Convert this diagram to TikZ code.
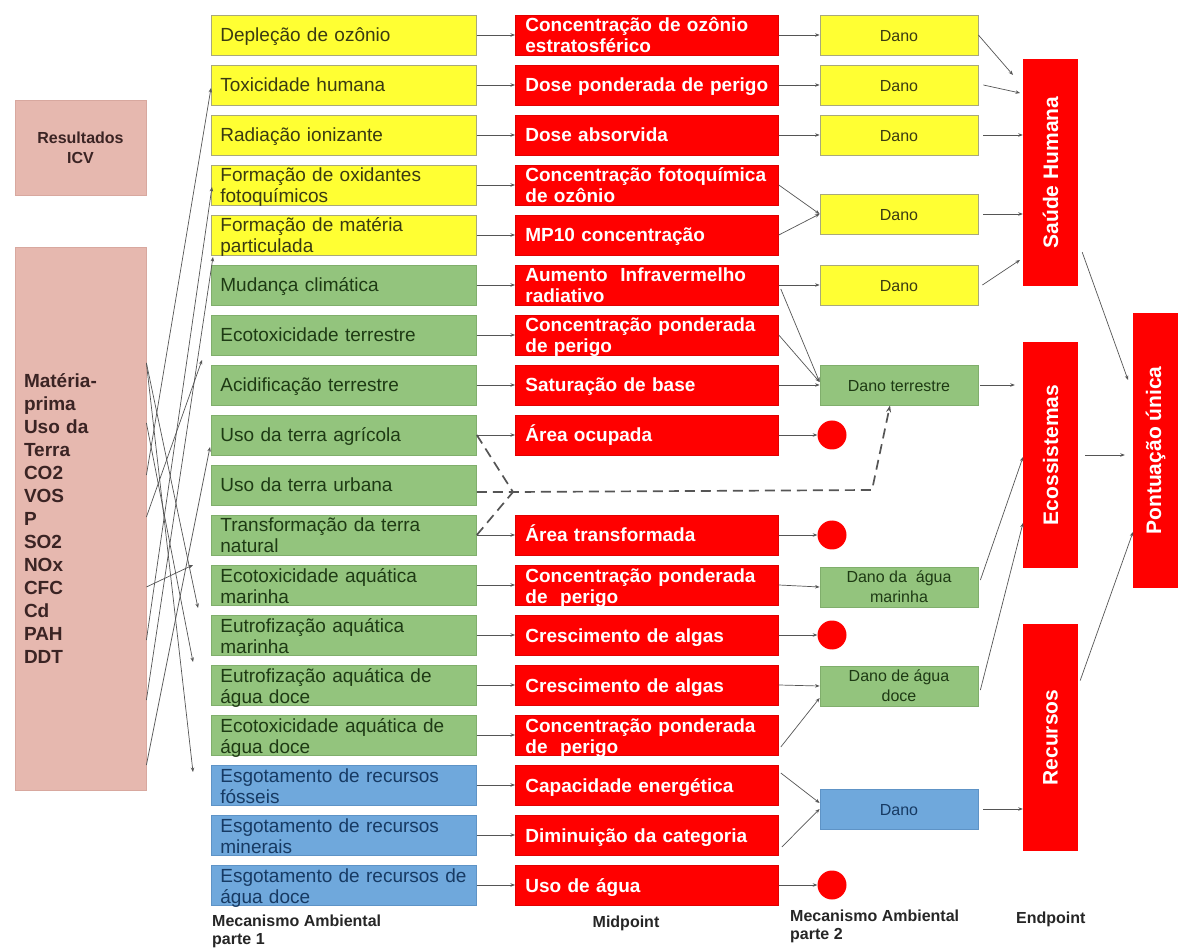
\documentclass[tikz,border=0pt]{standalone}
\usepackage{fontspec}
\setmainfont{Liberation Sans}
\usetikzlibrary{arrows.meta,calc}

\definecolor{ylw}{HTML}{FFFF33}
\definecolor{ylwline}{HTML}{A9A97A}
\definecolor{ylwtext}{HTML}{3A3A12}
\definecolor{grn}{HTML}{93C47D}
\definecolor{grnline}{HTML}{80AE6C}
\definecolor{grntext}{HTML}{1E3A14}
\definecolor{blu}{HTML}{6FA8DC}
\definecolor{bluline}{HTML}{5E93C6}
\definecolor{blutext}{HTML}{173A63}
\definecolor{rd}{HTML}{FF0000}
\definecolor{rdline}{HTML}{E00000}
\definecolor{pnk}{HTML}{E6B8AF}
\definecolor{pnkline}{HTML}{D8A89F}
\definecolor{pnktext}{HTML}{3B2424}
\definecolor{wire}{HTML}{555555}

\begin{document}
\begin{tikzpicture}[x=1pt,y=-1pt,
  box1/.style={rectangle, anchor=west, minimum height=40pt, inner xsep=9pt,
    inner ysep=0pt, text width=247pt, align=left, line width=0.8pt,
    text height=27pt, text depth=13pt,
    font=\fontsize{19}{21}\selectfont},
  twoline/.style={text height=17pt, text depth=23pt},
  yel/.style={box1, fill=ylw, draw=ylwline, text=ylwtext},
  grnbox/.style={box1, fill=grn, draw=grnline, text=grntext},
  blubox/.style={box1, fill=blu, draw=bluline, text=blutext},
  midbox/.style={rectangle, anchor=west, fill=rd, draw=rdline, line width=0.8pt,
    minimum height=40pt, inner xsep=10pt, inner ysep=0pt, text width=243pt,
    text height=27pt, text depth=13pt,
    align=left, text=white, font=\bfseries\fontsize{19}{21}\selectfont},
  dano/.style={rectangle, minimum width=158pt, minimum height=40pt, inner sep=0pt,
    align=center, line width=0.8pt, font=\fontsize{16}{20}\selectfont},
  danoone/.style={text height=26.5pt, text depth=13.5pt},
  danoy/.style={dano, danoone, fill=ylw, draw=ylwline, text=ylwtext},
  danog/.style={dano, fill=grn, draw=grnline, text=grntext},
  danob/.style={dano, danoone, fill=blu, draw=bluline, text=blutext},
  blob/.style={circle, fill=rd, minimum size=29pt, inner sep=0pt},
  endbox/.style={rectangle, fill=rd, minimum width=55pt, inner sep=0pt,
    text=white, font=\bfseries\fontsize{21}{24}\selectfont},
  pinkbox/.style={rectangle, fill=pnk, draw=pnkline, line width=0.8pt,
    minimum width=131pt, text=pnktext},
  link/.style={draw=wire, line width=0.7pt, -{Stealth[length=4.5pt,width=3.5pt]}},
  dashlink/.style={draw=wire, line width=1.7pt, dash pattern=on 10pt off 6pt},
  caption/.style={inner sep=0pt, align=left, text=black!85,
    font=\bfseries\fontsize{16}{18}\selectfont}
]
\fill[white] (0,0) rectangle (1179,949);
\useasboundingbox (0,0) rectangle (1179,949);

% ---------- inventory results ----------
\node[pinkbox, minimum height=95pt, align=center,
  font=\bfseries\fontsize{16}{20}\selectfont] (icvhead) at (80.5,147.5) {Resultados\\ICV};
\node[pinkbox, minimum height=543pt, inner xsep=9pt, text width=113pt, align=left,
  font=\bfseries\fontsize{19}{23}\selectfont] (icv) at (80.5,518.5)
  {Matéria-\\prima\\Uso da\\Terra\\CO2\\VOS\\P\\SO2\\NOx\\CFC\\Cd\\PAH\\DDT};

% ---------- environmental mechanism, part 1 ----------
\node[yel] (a0) at (211,35) {Depleção de ozônio};
\node[yel] (a1) at (211,85) {Toxicidade humana};
\node[yel] (a2) at (211,135) {Radiação ionizante};
\node[yel, twoline] (a3) at (211,185) {Formação de oxidantes\\fotoquímicos};
\node[yel, twoline] (a4) at (211,235) {Formação de matéria\\particulada};
\node[grnbox] (a5) at (211,285) {Mudança climática};
\node[grnbox] (a6) at (211,335) {Ecotoxicidade terrestre};
\node[grnbox] (a7) at (211,385) {Acidificação terrestre};
\node[grnbox] (a8) at (211,435) {Uso da terra agrícola};
\node[grnbox] (a9) at (211,485) {Uso da terra urbana};
\node[grnbox, twoline] (a10) at (211,535) {Transformação da terra\\natural};
\node[grnbox, twoline] (a11) at (211,585) {Ecotoxicidade aquática\\marinha};
\node[grnbox, twoline] (a12) at (211,635) {Eutrofização aquática\\marinha};
\node[grnbox, twoline] (a13) at (211,685) {Eutrofização aquática de\\água doce};
\node[grnbox, twoline] (a14) at (211,735) {Ecotoxicidade aquática de\\água doce};
\node[blubox, twoline] (a15) at (211,785) {Esgotamento de recursos\\fósseis};
\node[blubox, twoline] (a16) at (211,835) {Esgotamento de recursos\\minerais};
\node[blubox, twoline] (a17) at (211,885) {Esgotamento de recursos de\\água doce};

% ---------- midpoints ----------
\node[midbox, twoline] (b0) at (515,35) {Concentração de ozônio\\estratosférico};
\node[midbox] (b1) at (515,85) {Dose ponderada de perigo};
\node[midbox] (b2) at (515,135) {Dose absorvida};
\node[midbox, twoline] (b3) at (515,185) {Concentração fotoquímica\\de ozônio};
\node[midbox] (b4) at (515,235) {MP10 concentração};
\node[midbox, twoline] (b5) at (515,285) {Aumento\ \ Infravermelho\\radiativo};
\node[midbox, twoline] (b6) at (515,335) {Concentração ponderada\\de perigo};
\node[midbox] (b7) at (515,385) {Saturação de base};
\node[midbox] (b8) at (515,435) {Área ocupada};
\node[midbox] (b10) at (515,535) {Área transformada};
\node[midbox, twoline] (b11) at (515,585) {Concentração ponderada\\de\ \ perigo};
\node[midbox] (b12) at (515,635) {Crescimento de algas};
\node[midbox] (b13) at (515,685) {Crescimento de algas};
\node[midbox, twoline] (b14) at (515,735) {Concentração ponderada\\de\ \ perigo};
\node[midbox] (b15) at (515,785) {Capacidade energética};
\node[midbox] (b16) at (515,835) {Diminuição da categoria};
\node[midbox] (b17) at (515,885) {Uso de água};

% ---------- environmental mechanism, part 2 ----------
\node[danoy] (d0) at (899,35) {Dano};
\node[danoy] (d1) at (899,85) {Dano};
\node[danoy] (d2) at (899,135) {Dano};
\node[danoy] (d34) at (899,214) {Dano};
\node[danoy] (d5) at (899,285) {Dano};
\node[danog, danoone] (dterr) at (899,385) {Dano terrestre};
\node[blob] (o8) at (832,435) {};
\node[blob] (o10) at (832,535) {};
\node[danog] (dmar) at (899,587) {Dano da\ \ água\\marinha};
\node[blob] (o12) at (832,635) {};
\node[danog] (ddoce) at (899,686) {Dano de água\\doce};
\node[danob] (dres) at (899,809) {Dano};
\node[blob] (o17) at (832,885) {};

% ---------- endpoints ----------
\node[endbox, minimum height=227pt] (saude) at (1050.5,172.5) {\rotatebox{90}{Saúde Humana}};
\node[endbox, minimum height=226pt] (eco) at (1050.5,455) {\rotatebox{90}{Ecossistemas}};
\node[endbox, minimum height=227pt] (recursos) at (1050.5,737.5) {\rotatebox{90}{Recursos}};
\node[endbox, minimum width=45pt, minimum height=275pt] (pont) at (1155.5,450.5) {\rotatebox{90}{Pontuação única}};

% ---------- captions ----------
\node[caption, anchor=north west] (cap1) at (212,915) {Mecanismo Ambiental\\parte 1};
\node[caption, anchor=base] (cap2) at (626,927) {Midpoint};
\node[caption, anchor=north west] (cap3) at (790,910) {Mecanismo Ambiental\\parte 2};
\node[caption, anchor=base west] (cap4) at (1016,923) {Endpoint};

% ---------- inventory flows into the impact categories ----------
\coordinate (p1) at (icv.east |- 0,475);
\coordinate (p2) at (icv.east |- 0,640);
\coordinate (p3) at (icv.east |- 0,700);
\coordinate (p4) at (icv.east |- 0,517);
\coordinate (p5) at (icv.east |- 0,765);
\coordinate (p6) at (icv.east |- 0,587);
\coordinate (p7) at (icv.east |- 0,363);
\coordinate (p8) at (icv.east |- 0,423);
\coordinate (q1) at (211,88);
\coordinate (q2) at (212,187);
\coordinate (q3) at (213,257);
\coordinate (q4) at (202,360);
\coordinate (q5) at (210,447);
\coordinate (q6) at (193,565);
\coordinate (q7) at (198,608);
\coordinate (q8) at (193,662);
\coordinate (q9) at (193,772);
\draw[link] (p1) -- (q1);
\draw[link] (p2) -- (q2);
\draw[link] (p3) -- (q3);
\draw[link] (p4) -- (q4);
\draw[link] (p5) -- (q5);
\draw[link] (p6) -- (q6);
\draw[link] (p7) -- (q7);
\draw[link] (p8) -- (q8);
\draw[link] (p7) -- (q9);

% ---------- categories to midpoints ----------
\foreach \i in {0,...,8,10,11,12,13,14,15,16,17}
  \draw[link] (a\i.east) -- (b\i.west);

% ---------- midpoints to damage ----------
\draw[link] (b0.east) -- (d0.west);
\draw[link] (b1.east) -- (d1.west);
\draw[link] (b2.east) -- (d2.west);
\draw[link] (b3.east) -- (d34.west);
\draw[link] (b4.east) -- (d34.west);
\draw[link] (b5.east) -- (d5.west);
\draw[link] ($(b5.east)+(2,4)$) -- ($(dterr.west)+(0,-3)$);
\draw[link] (b6.east) -- ($(dterr.west)+(0,-3)$);
\draw[link] (b7.east) -- (dterr.west);
\draw[link] (b8.east) -- (o8.west);
\draw[link] (b10.east) -- (o10.west);
\draw[link] (b11.east) -- (dmar.west);
\draw[link] (b12.east) -- (o12.west);
\draw[link] (b13.east) -- (ddoce.west);
\draw[link] ($(b14.east)+(2,12)$) -- ($(ddoce.west)+(0,12)$);
\draw[link] ($(b15.east)+(2,-12)$) -- ($(dres.west)+(0,-6)$);
\draw[link] ($(b16.east)+(3,12)$) -- (dres.west);
\draw[link] (b17.east) -- (o17.west);

% ---------- land use (dashed) ----------
\coordinate (jn) at (513,492);
\coordinate (bend) at (872,490);
\draw[dashlink] (a8.east) -- (jn);
\draw[dashlink] (a10.east) -- (jn);
\draw[dashlink, -{Stealth[length=7pt,width=5pt]}] ($(a9.east)+(0,7)$) -- (jn) -- (bend)
  -- ($(dterr.south)+(-9,0)$);

% ---------- damage to endpoints ----------
\coordinate (e0) at (1013,75);
\coordinate (e1) at (1020,93);
\coordinate (e5) at (1020,260);
\draw[link] (d0.east) -- (e0);
\draw[link] ($(d1.east)+(5,0)$) -- (e1);
\draw[link] ($(d2.east)+(5,0)$) -- (d2 -| saude.west);
\draw[link] ($(d34.east)+(5,0)$) -- (d34 -| saude.west);
\draw[link] ($(d5.east)+(4,0)$) -- (e5);
\draw[link] ($(dterr.east)+(2,0)$) -- ($(dterr -| eco.west)+(-8,0)$);
\coordinate (e6) at (1023,457);
\coordinate (e7) at (1023,523);
\draw[link] ($(dmar.east)+(2,-7)$) -- (e6);
\draw[link] ($(ddoce.east)+(2,4)$) -- (e7);
\draw[link] ($(dres.east)+(5,0)$) -- (dres -| recursos.west);

% ---------- endpoints to single score ----------
\coordinate (f1) at (1128,380);
\coordinate (f3) at (1133,532);
\draw[link] ($(saude.south east)+(4,-34)$) -- (f1);
\draw[link] ($(eco.east)+(7,0)$) -- ($(eco.east -| pont.west)+(-8,0)$);
\draw[link] ($(recursos.east)+(2,-57)$) -- (f3);
\end{tikzpicture}
\end{document}
